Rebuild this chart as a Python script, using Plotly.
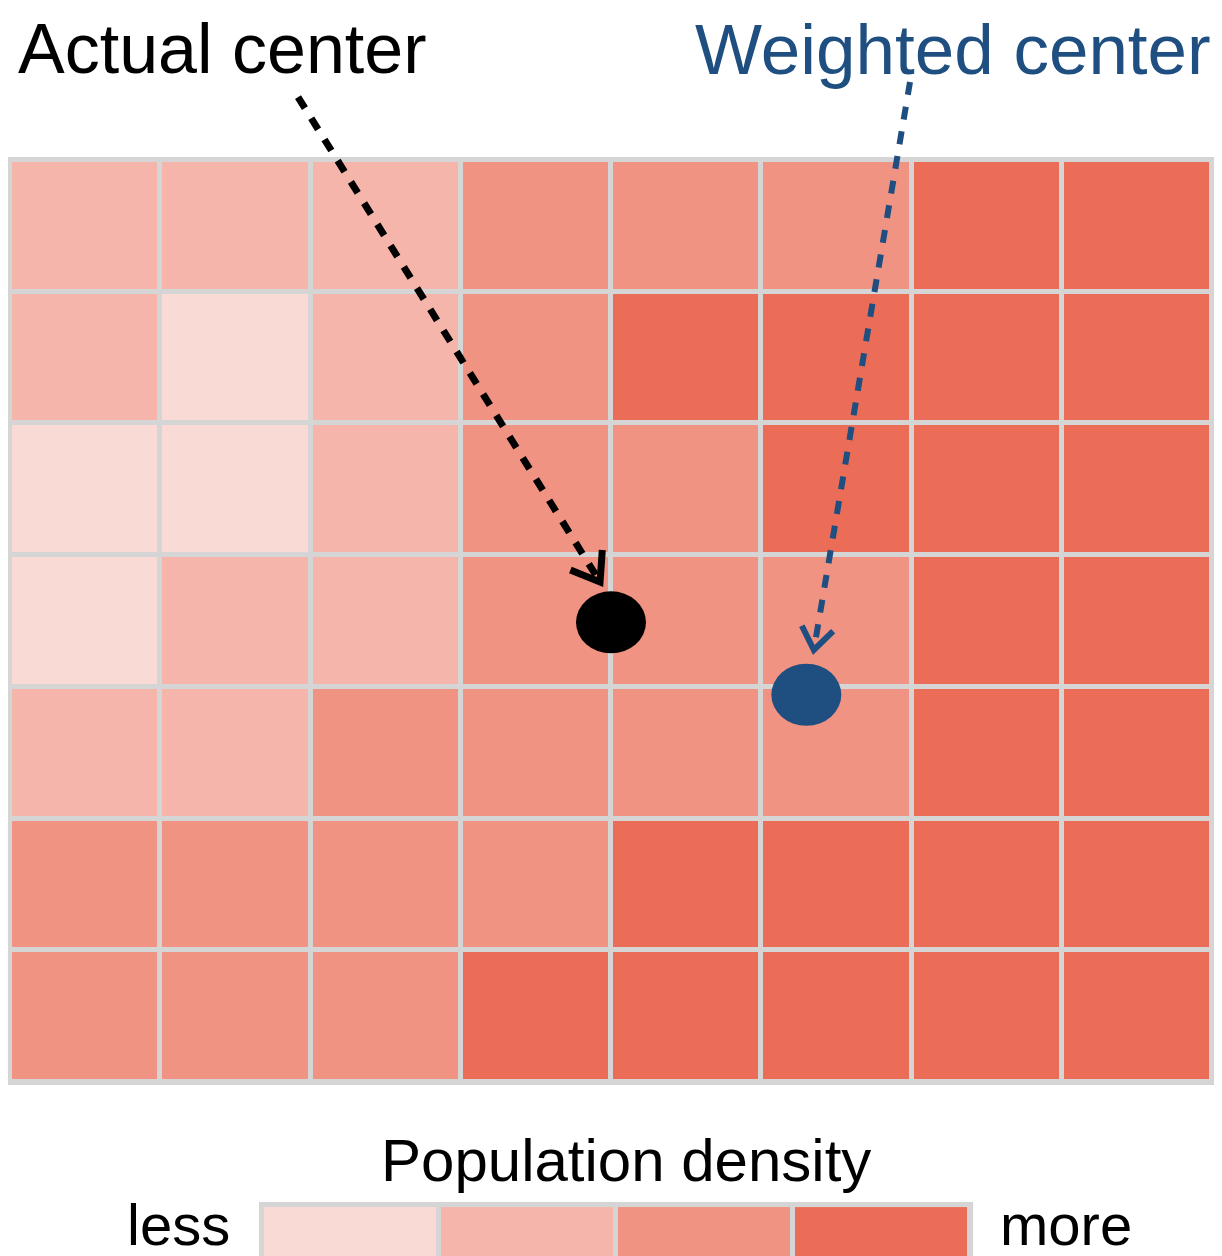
import math
import plotly.graph_objects as go

# ---------------- data ----------------
# density level per cell (1 = less ... 4 = more), rows listed top to bottom
density_rows = [
    [2, 2, 2, 3, 3, 3, 4, 4],
    [2, 1, 2, 3, 4, 4, 4, 4],
    [1, 1, 2, 3, 3, 4, 4, 4],
    [1, 2, 2, 3, 3, 3, 4, 4],
    [2, 2, 3, 3, 3, 3, 4, 4],
    [3, 3, 3, 3, 4, 4, 4, 4],
    [3, 3, 3, 4, 4, 4, 4, 4],
]
level_colors = ["#F9DAD4", "#F5B5AA", "#F19382", "#EC6D57"]
legend_levels = [1, 2, 3, 4]
legend_title = "Population density"
legend_low, legend_high = "less", "more"

# centers (grid units: x 0..8 from left, y 0..7 from bottom)
center_labels = ["Actual center", "Weighted center"]
center_x = [4.0, 5.30]
center_y = [3.49, 2.94]
center_colors = ["#000000", "#1F4E80"]
# arrow start / tip (grid units)
arrow_x0 = [1.917, 5.99]
arrow_y0 = [7.478, 7.592]
arrow_x1 = [3.927, 5.35]
arrow_y1 = [3.796, 3.28]

# ---------------- layout constants ----------------
OFF = 8                      # default page body margin
W, H = 1222 - OFF, 1256 - OFF
NCOL, NROW = 8, 7
GX0, GX1, GY0, GY1 = 10 - OFF, 1212 - OFF, 160 - OFF, 1082 - OFF   # grid pixel box in figure
PX_X = (GX1 - GX0) / NCOL
PX_Y = (GY1 - GY0) / NROW
X_RANGE = [-GX0 / PX_X, NCOL + (W - GX1) / PX_X]
Y_RANGE = [-(H - GY1) / PX_Y, NROW + GY0 / PX_Y]
GRAY = "#D5D5D5"


def px(xs):
    return (xs - OFF) / W


def py(ys):
    return 1 - (ys - OFF) / H


fig = go.Figure()

# colour scale (discrete 4 steps)
cs = []
n = len(level_colors)
for i, c in enumerate(level_colors):
    cs.append([i / n, c])
    cs.append([(i + 1) / n, c])

gx = 5 / PX_X
gy = 5 / PX_Y
fig.add_shape(type="rect", xref="x", yref="y", x0=-gx * 0.6, x1=NCOL + gx * 0.6,
              y0=-gy * 0.6, y1=NROW + gy * 0.6, fillcolor=GRAY, line_width=0, layer="below")

z = density_rows[::-1]
fig.add_trace(go.Heatmap(
    z=z, x=[i + 0.5 for i in range(NCOL)], y=[j + 0.5 for j in range(NROW)],
    zmin=1, zmax=4, colorscale=cs, showscale=False, xgap=5, ygap=5, hoverinfo="skip"))

# legend boxes
leg_x_left, leg_x_right = 1.677, 6.39
leg_y_top, leg_y_bot = -0.934, -1.6
step = (leg_x_right - leg_x_left) / len(legend_levels)
leg_edges = [leg_x_left + i * step for i in range(len(legend_levels) + 1)]
fig.add_shape(type="rect", xref="x", yref="y", x0=leg_x_left - gx * 0.6, x1=leg_x_right + gx * 0.6,
              y0=leg_y_bot, y1=leg_y_top + gy * 0.6, fillcolor=GRAY, line_width=0, layer="below")
fig.add_trace(go.Heatmap(
    z=[legend_levels], x=leg_edges, y=[leg_y_bot, leg_y_top],
    zmin=1, zmax=4, colorscale=cs, showscale=False, xgap=5, ygap=5, hoverinfo="skip"))

# arrows (dashed shaft + open chevron head)
widths = [7, 6]
head_len = [32, 27]
for i in range(2):
    col = center_colors[i]
    fig.add_trace(go.Scatter(
        x=[arrow_x0[i], arrow_x1[i]], y=[arrow_y0[i], arrow_y1[i]], mode="lines",
        line=dict(color=col, width=widths[i], dash="13px,12px"), hoverinfo="skip", showlegend=False))
    dxp = (arrow_x1[i] - arrow_x0[i]) * PX_X
    dyp = (arrow_y1[i] - arrow_y0[i]) * PX_Y
    L = math.hypot(dxp, dyp)
    ux, uy = -dxp / L, -dyp / L
    hx, hy = [], []
    for sgn in (1, -1):
        a = math.radians(36) * sgn
        rx = ux * math.cos(a) - uy * math.sin(a)
        ry = ux * math.sin(a) + uy * math.cos(a)
        hx.append(arrow_x1[i] + rx * head_len[i] / PX_X)
        hy.append(arrow_y1[i] + ry * head_len[i] / PX_Y)
    fig.add_trace(go.Scatter(
        x=[hx[0], arrow_x1[i], hx[1]], y=[hy[0], arrow_y1[i], hy[1]], mode="lines",
        line=dict(color=col, width=widths[i]), hoverinfo="skip", showlegend=False))

# center dots (ellipses)
RX, RY = 35, 31
for i in range(2):
    fig.add_shape(type="circle", xref="x", yref="y",
                  x0=center_x[i] - RX / PX_X, x1=center_x[i] + RX / PX_X,
                  y0=center_y[i] - RY / PX_Y, y1=center_y[i] + RY / PX_Y,
                  fillcolor=center_colors[i], line_width=0, layer="above")

FONT = "Liberation Sans, Arial, Helvetica, sans-serif"
fig.add_annotation(xref="paper", yref="paper", x=px(16), y=1, xanchor="left", yanchor="top",
                   text=center_labels[0], showarrow=False,
                   font=dict(family=FONT, size=70, color=center_colors[0]))
fig.add_annotation(xref="paper", yref="paper", x=px(1213), y=1, xanchor="right", yanchor="top",
                   text=center_labels[1], showarrow=False,
                   font=dict(family=FONT, size=71, color=center_colors[1]))
fig.add_annotation(xref="paper", yref="paper", x=px(626), y=py(1160), xanchor="center", yanchor="middle",
                   text=legend_title, showarrow=False, font=dict(family=FONT, size=60, color="#000"))
fig.add_annotation(xref="paper", yref="paper", x=px(232), y=py(1224), xanchor="right", yanchor="middle",
                   text=legend_low, showarrow=False, font=dict(family=FONT, size=58, color="#000"))
fig.add_annotation(xref="paper", yref="paper", x=px(998), y=py(1224), xanchor="left", yanchor="middle",
                   text=legend_high, showarrow=False, font=dict(family=FONT, size=58, color="#000"))

fig.update_layout(
    width=W, height=H, margin=dict(l=0, r=0, t=0, b=0),
    paper_bgcolor="white", plot_bgcolor="white", showlegend=False,
    xaxis=dict(range=X_RANGE, visible=False, fixedrange=True, domain=[0, 1]),
    yaxis=dict(range=Y_RANGE, visible=False, fixedrange=True, domain=[0, 1]),
)

fig.write_html("out.html")
